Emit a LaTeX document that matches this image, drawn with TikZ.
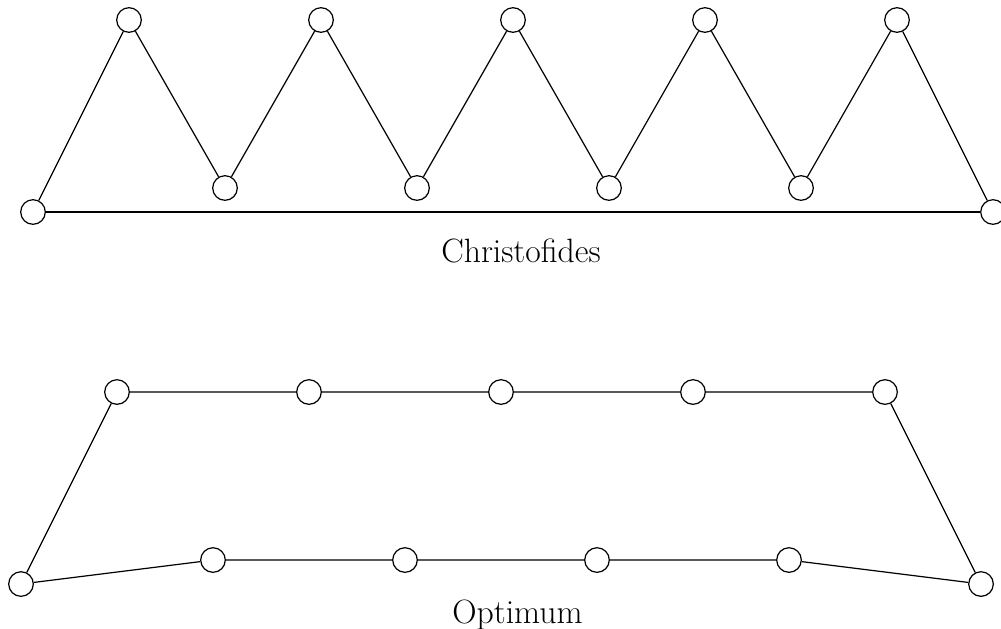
\documentclass[tikz,border=0pt]{standalone}
\begin{document}
\begin{tikzpicture}[x=0.328pt,y=-0.328pt,
  vtx/.style={circle,draw,line width=0.4pt,minimum size=24.6*0.328pt,inner sep=0pt},
  edge/.style={draw,line width=0.4pt},
  lbl/.style={anchor=base,font=\fontsize{17.28}{20}\selectfont,scale=0.64,inner sep=0pt}]
\useasboundingbox (0,0) rectangle (1001,628);
% Christofides
\node[vtx] (ca) at (33,212) {};
\node[vtx] (cb) at (993,212) {};
\foreach \i/\x in {1/129,2/321,3/513,4/705,5/897} {\node[vtx] (cu\i) at (\x,20) {};}
\foreach \i/\x in {1/225,2/417,3/609,4/801} {\node[vtx] (cl\i) at (\x,188) {};}
\draw[edge] (ca) -- (cu1) -- (cl1) -- (cu2) -- (cl2) -- (cu3) -- (cl3) -- (cu4) -- (cl4) -- (cu5) -- (cb);
\draw[edge] (ca) -- (cb);
\node[lbl] (ct) at (521,262) {Christofides};
% Optimum
\node[vtx] (oa) at (21,584) {};
\node[vtx] (ob) at (981,584) {};
\foreach \i/\x in {1/117,2/309,3/501,4/693,5/885} {\node[vtx] (ou\i) at (\x,392) {};}
\foreach \i/\x in {1/213,2/405,3/597,4/789} {\node[vtx] (ol\i) at (\x,560) {};}
\draw[edge] (oa) -- (ou1) -- (ou2) -- (ou3) -- (ou4) -- (ou5) -- (ob) -- (ol4) -- (ol3) -- (ol2) -- (ol1) -- (oa);
\node[lbl] (ot) at (517.5,623) {Optimum};
\end{tikzpicture}
\end{document}
